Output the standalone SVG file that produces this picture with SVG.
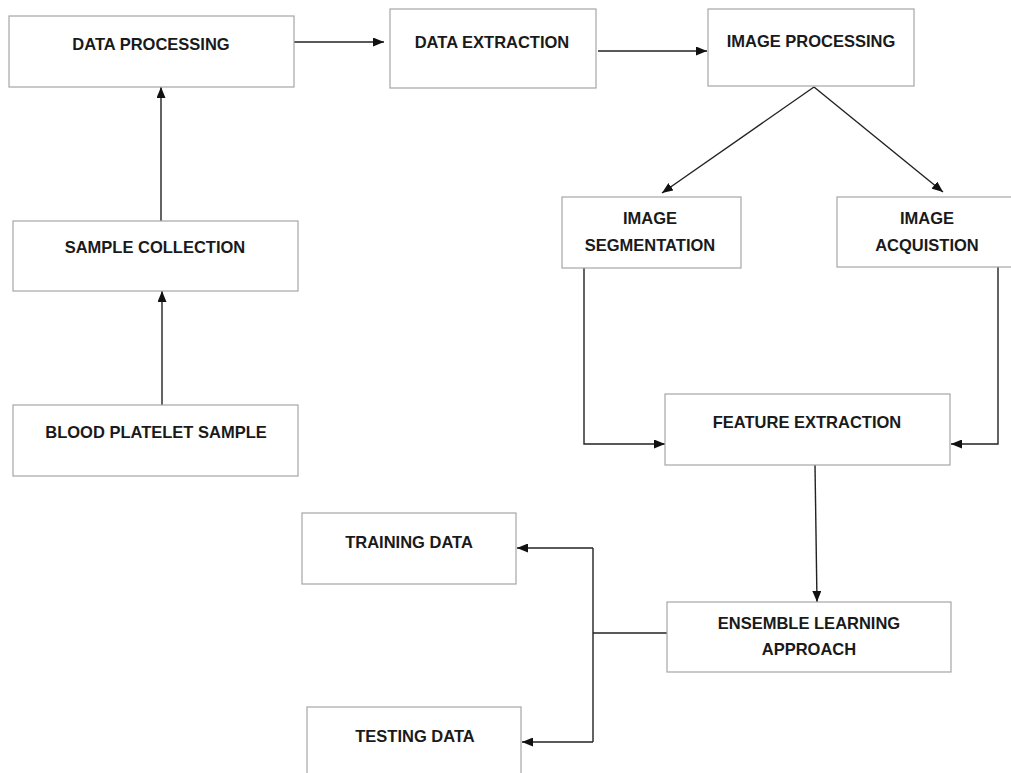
<svg xmlns="http://www.w3.org/2000/svg" width="1011" height="773" viewBox="0 0 1011 773">
<defs>
<marker id="ah" markerWidth="11" markerHeight="9" refX="11" refY="4.5" orient="auto" markerUnits="userSpaceOnUse">
<path d="M0,0 L11,4.5 L0,9 Z" fill="#111"/>
</marker>
<style>
.box{fill:#fff;stroke:#a6a6a6;stroke-width:1.2}
.lbl{font-family:"Liberation Sans",Arial,sans-serif;font-weight:bold;font-size:16.5px;fill:#1a1a1a;text-anchor:middle}
.c{fill:none;stroke:#222;stroke-width:1.4}
</style>
</defs>
<rect width="1011" height="773" fill="#fff"/>
<g id="connectors">
<line class="c" x1="294" y1="42" x2="384" y2="42" marker-end="url(#ah)"/>
<line class="c" x1="598" y1="51" x2="707" y2="51" marker-end="url(#ah)"/>
<line class="c" x1="161" y1="221" x2="161" y2="87" marker-end="url(#ah)"/>
<line class="c" x1="162" y1="405" x2="162" y2="291" marker-end="url(#ah)"/>
<line class="c" x1="814" y1="87" x2="662" y2="193" marker-end="url(#ah)"/>
<line class="c" x1="814" y1="87" x2="943" y2="192" marker-end="url(#ah)"/>
<polyline class="c" points="584,268 584,444 665,444" marker-end="url(#ah)"/>
<polyline class="c" points="998,267 998,444 951,444" marker-end="url(#ah)"/>
<line class="c" x1="815" y1="465" x2="817" y2="602" marker-end="url(#ah)"/>
<line class="c" x1="593" y1="633" x2="668" y2="633"/>
<polyline class="c" points="593,548 593,742"/>
<line class="c" x1="593" y1="548" x2="517" y2="548" marker-end="url(#ah)"/>
<line class="c" x1="593" y1="742" x2="522" y2="742" marker-end="url(#ah)"/>
</g>
<g id="data-processing">
<rect class="box" x="9" y="16" width="285" height="71"/>
<text class="lbl" x="151" y="50">DATA PROCESSING</text>
</g>
<g id="data-extraction">
<rect class="box" x="390" y="9" width="206" height="79"/>
<text class="lbl" x="492" y="48">DATA EXTRACTION</text>
</g>
<g id="image-processing">
<rect class="box" x="708" y="9" width="206" height="77"/>
<text class="lbl" x="811" y="47">IMAGE PROCESSING</text>
</g>
<g id="sample-collection">
<rect class="box" x="13" y="221" width="285" height="70"/>
<text class="lbl" x="155" y="253">SAMPLE COLLECTION</text>
</g>
<g id="blood-platelet-sample">
<rect class="box" x="13" y="405" width="285" height="71"/>
<text class="lbl" x="156" y="438">BLOOD PLATELET SAMPLE</text>
</g>
<g id="image-segmentation">
<rect class="box" x="562" y="197" width="179" height="71"/>
<text class="lbl" x="650" y="224">IMAGE</text>
<text class="lbl" x="650" y="251">SEGMENTATION</text>
</g>
<g id="image-acquistion">
<rect class="box" x="837" y="197" width="180" height="70"/>
<text class="lbl" x="927" y="224">IMAGE</text>
<text class="lbl" x="927" y="251">ACQUISTION</text>
</g>
<g id="feature-extraction">
<rect class="box" x="665" y="394" width="285" height="71"/>
<text class="lbl" x="807" y="428">FEATURE EXTRACTION</text>
</g>
<g id="ensemble-learning-approach">
<rect class="box" x="667" y="602" width="284" height="70"/>
<text class="lbl" x="809" y="629">ENSEMBLE LEARNING</text>
<text class="lbl" x="809" y="655">APPROACH</text>
</g>
<g id="training-data">
<rect class="box" x="302" y="513" width="214" height="71"/>
<text class="lbl" x="409" y="548">TRAINING DATA</text>
</g>
<g id="testing-data">
<rect class="box" x="307" y="707" width="214" height="80"/>
<text class="lbl" x="415" y="742">TESTING DATA</text>
</g>
</svg>
